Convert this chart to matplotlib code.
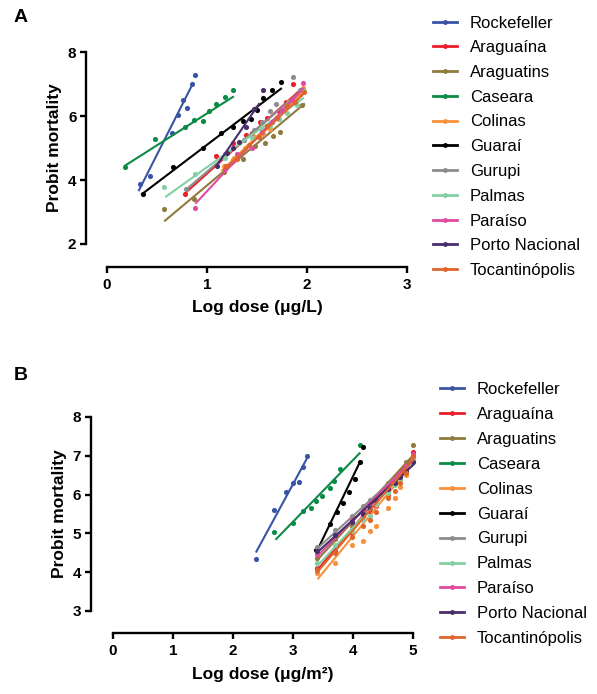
import matplotlib
matplotlib.use("Agg")
import matplotlib.pyplot as plt
import numpy as np

plt.rcParams['font.family'] = ['Liberation Sans', 'DejaVu Sans']

names = ["Rockefeller", "Araguaína", "Araguatins", "Caseara", "Colinas", "Guaraí",
         "Gurupi", "Palmas", "Paraíso", "Porto Nacional", "Tocantinópolis"]
colors = ["#3a54a5", "#ee1d2a", "#8f7b3e", "#0b8a45", "#f7913c", "#000000",
          "#8c8c8c", "#84cfa1", "#e04a9f", "#4a2d6b", "#e0652d"]

# ---------- Panel A (log dose ug/L) ----------
A_x = {
    "Rockefeller": [0.33, 0.43, 0.65, 0.71, 0.76, 0.80, 0.85, 0.88],
    "Araguaína": [0.78, 1.09, 1.26, 1.39, 1.45, 1.53, 1.60, 1.72, 1.79, 1.86, 1.93],
    "Araguatins": [0.57, 0.87, 1.17, 1.26, 1.36, 1.48, 1.58, 1.66, 1.73, 1.88, 1.95],
    "Caseara": [0.18, 0.48, 0.78, 0.87, 0.96, 1.02, 1.09, 1.18, 1.26],
    "Colinas": [1.17, 1.27, 1.38, 1.48, 1.56, 1.63, 1.72, 1.81, 1.88, 1.96],
    "Guaraí": [0.36, 0.66, 0.96, 1.14, 1.26, 1.36, 1.44, 1.50, 1.56, 1.65, 1.74],
    "Gurupi": [0.79, 1.18, 1.37, 1.47, 1.55, 1.63, 1.69, 1.78, 1.86, 1.93],
    "Palmas": [0.57, 0.88, 1.18, 1.32, 1.45, 1.55, 1.63, 1.72, 1.80, 1.90, 1.97],
    "Paraíso": [0.88, 1.18, 1.30, 1.45, 1.55, 1.65, 1.75, 1.85, 1.96],
    "Porto Nacional": [1.10, 1.20, 1.26, 1.32, 1.39, 1.47, 1.56],
    "Tocantinópolis": [1.19, 1.30, 1.42, 1.52, 1.60, 1.70, 1.80, 1.88, 1.97],
}
A_y = {
    "Rockefeller": [3.87, 4.13, 5.48, 6.03, 6.50, 6.24, 7.00, 7.28],
    "Araguaína": [3.55, 4.74, 5.17, 5.40, 5.48, 5.80, 5.93, 6.17, 6.45, 7.00, 6.71],
    "Araguatins": [3.08, 3.40, 4.25, 4.62, 4.65, 5.06, 5.17, 5.38, 5.49, 6.42, 6.35],
    "Caseara": [4.42, 5.28, 5.67, 5.87, 5.85, 6.17, 6.37, 6.58, 6.81],
    "Colinas": [4.45, 4.70, 5.00, 5.35, 5.45, 5.58, 5.90, 6.45, 6.55, 6.86],
    "Guaraí": [3.55, 4.42, 5.00, 5.48, 5.67, 5.85, 5.91, 6.19, 6.55, 6.82, 7.06],
    "Gurupi": [3.71, 4.80, 5.25, 5.55, 5.80, 6.15, 6.37, 6.35, 7.21, 6.80],
    "Palmas": [3.77, 4.18, 4.68, 5.15, 5.30, 5.55, 5.70, 5.90, 6.10, 6.35, 6.78],
    "Paraíso": [3.12, 4.33, 4.80, 5.00, 5.50, 5.80, 6.20, 6.50, 7.02],
    "Porto Nacional": [4.45, 4.85, 5.00, 5.20, 5.65, 6.21, 6.81],
    "Tocantinópolis": [4.45, 4.65, 5.10, 5.35, 5.70, 5.95, 6.30, 6.45, 6.75],
}
# fitted probit lines: slope, intercept, x start, x end
A_fit = {
    "Rockefeller": (6.19, 1.70, 0.32, 0.86),
    "Araguaína": (2.80, 1.40, 0.78, 1.95),
    "Araguatins": (2.62, 1.21, 0.58, 1.97),
    "Caseara": (1.99, 4.09, 0.18, 1.26),
    "Colinas": (3.05, 0.79, 1.15, 1.97),
    "Guaraí": (2.37, 2.73, 0.35, 1.74),
    "Gurupi": (2.68, 1.58, 0.79, 1.93),
    "Palmas": (2.24, 2.16, 0.59, 1.96),
    "Paraíso": (3.34, 0.31, 0.89, 1.96),
    "Porto Nacional": (4.55, -0.54, 1.10, 1.52),
    "Tocantinópolis": (2.97, 0.85, 1.18, 1.97),
}

# ---------- Panel B (log dose ug/m2) ----------
B_x = {
    "Rockefeller": [2.39, 2.69, 2.88, 3.00, 3.10, 3.17, 3.24],
    "Araguaína": [3.40, 3.70, 3.98, 4.17, 4.28, 4.39, 4.59, 4.70, 4.78, 4.89, 5.00],
    "Araguatins": [3.40, 3.70, 3.98, 4.17, 4.28, 4.39, 4.59, 4.70, 4.78, 4.89, 5.00],
    "Caseara": [2.69, 3.00, 3.17, 3.30, 3.39, 3.48, 3.61, 3.69, 3.78, 4.12],
    "Colinas": [3.40, 3.70, 3.98, 4.17, 4.28, 4.39, 4.59, 4.70, 4.78, 4.89, 5.00],
    "Guaraí": [3.39, 3.61, 3.74, 3.84, 3.94, 4.03, 4.12, 4.16],
    "Gurupi": [3.40, 3.70, 3.98, 4.17, 4.28, 4.39, 4.59, 4.70, 4.78, 4.89, 5.00],
    "Palmas": [3.40, 3.70, 3.98, 4.17, 4.28, 4.39, 4.59, 4.70, 4.78, 4.89, 5.00],
    "Paraíso": [3.40, 3.70, 3.98, 4.17, 4.28, 4.39, 4.59, 4.70, 4.78, 4.89, 5.00],
    "Porto Nacional": [3.40, 3.70, 3.98, 4.17, 4.28, 4.39, 4.59, 4.70, 4.78, 4.89, 5.00],
    "Tocantinópolis": [3.40, 3.70, 3.98, 4.17, 4.28, 4.39, 4.59, 4.70, 4.78, 4.89, 5.00],
}
B_y = {
    "Rockefeller": [4.33, 5.60, 6.07, 6.31, 6.32, 6.72, 6.99],
    "Araguaína": [4.10, 4.55, 5.00, 5.45, 5.55, 5.70, 6.00, 6.30, 6.40, 6.70, 7.10],
    "Araguatins": [4.36, 4.85, 5.20, 5.60, 5.70, 5.90, 6.30, 6.40, 6.55, 6.85, 7.28],
    "Caseara": [5.03, 5.26, 5.58, 5.65, 5.84, 5.96, 6.16, 6.36, 6.65, 7.28],
    "Colinas": [3.99, 4.25, 4.70, 4.80, 5.05, 5.20, 5.65, 5.90, 6.20, 6.50, 6.95],
    "Guaraí": [4.57, 5.23, 5.56, 5.79, 6.07, 6.39, 6.85, 7.22],
    "Gurupi": [4.64, 5.10, 5.45, 5.70, 5.85, 5.95, 6.25, 6.40, 6.50, 6.70, 7.00],
    "Palmas": [4.24, 4.70, 5.05, 5.35, 5.45, 5.75, 6.05, 6.25, 6.40, 6.65, 6.90],
    "Paraíso": [4.47, 4.95, 5.35, 5.55, 5.75, 5.90, 6.20, 6.35, 6.55, 6.75, 7.05],
    "Porto Nacional": [4.55, 4.95, 5.30, 5.50, 5.65, 5.85, 6.15, 6.30, 6.45, 6.60, 6.85],
    "Tocantinópolis": [4.05, 4.50, 4.90, 5.20, 5.35, 5.55, 5.90, 6.10, 6.30, 6.55, 7.00],
}
B_fit = {
    "Rockefeller": (2.85, -2.28, 2.39, 3.25),
    "Araguaína": (1.84, -2.21, 3.40, 5.00),
    "Araguatins": (1.69, -1.44, 3.40, 5.00),
    "Caseara": (1.59, 0.53, 2.72, 4.11),
    "Colinas": (1.88, -2.59, 3.42, 5.00),
    "Guaraí": (3.20, -6.33, 3.39, 4.12),
    "Gurupi": (1.41, -0.19, 3.40, 5.00),
    "Palmas": (1.66, -1.49, 3.40, 5.00),
    "Paraíso": (1.56, -0.90, 3.40, 5.00),
    "Porto Nacional": (1.41, -0.29, 3.40, 5.00),
    "Tocantinópolis": (1.81, -2.16, 3.40, 5.00),
}

W, H = 597, 694
fig = plt.figure(figsize=(W / 100, H / 100), dpi=100)


def px_axes(l, r, t, b):
    return fig.add_axes([l / W, 1 - b / H, (r - l) / W, (b - t) / H])


def style(ax, xl, yl, xticks, yticks, offx, offy, xlabel):
    ax.set_xlim(*xl)
    ax.set_ylim(*yl)
    ax.set_xticks(xticks)
    ax.set_yticks(yticks)
    for s in ["top", "right"]:
        ax.spines[s].set_visible(False)
    ax.spines["left"].set_position(("outward", offy))
    ax.spines["bottom"].set_position(("outward", offx))
    for s in ["left", "bottom"]:
        ax.spines[s].set_linewidth(1.7)
    ax.tick_params(direction="out", length=4, width=1.7, labelsize=11, pad=3)
    ax.tick_params(axis="x", pad=4)
    for lab in ax.get_xticklabels() + ax.get_yticklabels():
        lab.set_fontweight("bold")
    ax.set_ylabel("Probit mortality", fontsize=12.5, fontweight="bold", labelpad=4)
    ax.set_xlabel(xlabel, fontsize=12.5, fontweight="bold", labelpad=6)
    ax.patch.set_alpha(0)


def draw(ax, X, Y, FIT):
    handles = []
    for n, c in zip(names, colors):
        ax.plot(X[n], Y[n], "o", color=c, ms=3.7, mec="none", clip_on=False)
        m, b, x0, x1 = FIT[n]
        xs = np.array([x0, x1])
        ax.plot(xs, m * xs + b, "-", color=c, lw=1.5, clip_on=False)
        h, = ax.plot([], [], "-", color=c, lw=2.0, marker="o", ms=2.5, label=n)
        handles.append(h)
    return handles


axA = px_axes(107, 407, 52, 244)
hA = draw(axA, A_x, A_y, A_fit)
style(axA, (0, 3), (2, 8), [0, 1, 2, 3], [2, 4, 6, 8], 16.5, 15, "Log dose (μg/L)")
legA = fig.legend(handles=hA, loc="upper left", bbox_to_anchor=(433 / W, 1 - 15.5 / H),
                  frameon=False, fontsize=12, handlelength=1.45, handletextpad=0.75,
                  labelspacing=0.585, borderpad=0, borderaxespad=0)

axB = px_axes(113, 413, 417, 611)
hB = draw(axB, B_x, B_y, B_fit)
style(axB, (0, 5), (3, 8), [0, 1, 2, 3, 4, 5], [3, 4, 5, 6, 7, 8], 16, 16, "Log dose (μg/m²)")
legB = fig.legend(handles=hB, loc="upper left", bbox_to_anchor=(440 / W, 1 - 382 / H),
                  frameon=False, fontsize=12, handlelength=1.45, handletextpad=0.75,
                  labelspacing=0.595, borderpad=0, borderaxespad=0)

fig.text(14 / W, 1 - 18 / H, "A", fontsize=14, fontweight="bold", va="center")
fig.text(14 / W, 1 - 375 / H, "B", fontsize=14, fontweight="bold", va="center")

fig.savefig("out.png", dpi=100)
